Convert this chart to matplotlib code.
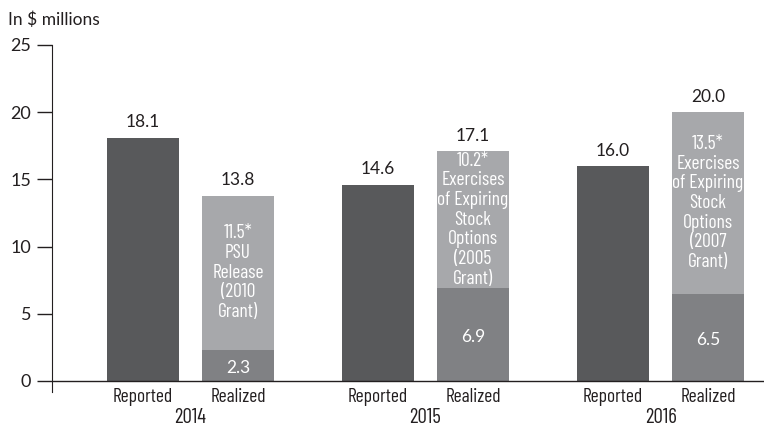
import numpy as np
import matplotlib.pyplot as plt

plt.rcParams['font.family'] = ['Lato', 'DejaVu Sans']
narrow = ['Barlow Condensed', 'DejaVu Sans']

years = ['2014', '2015', '2016']
reported = [18.1, 14.6, 16.0]
realized_base = [2.3, 6.9, 6.5]
realized_extra = [11.5, 10.2, 13.5]
extra_notes = [
    'PSU\nRelease\n(2010\nGrant)',
    'Exercises\nof Expiring\nStock\nOptions\n(2005\nGrant)',
    'Exercises\nof Expiring\nStock\nOptions\n(2007\nGrant)',
]

c_reported = '#58595b'
c_base = '#808184'
c_extra = '#a7a8ab'
c_text = '#231f20'

x = np.arange(len(years))
off = 0.202
w = 0.306
realized_total = [b + e for b, e in zip(realized_base, realized_extra)]

fig = plt.figure(figsize=(7.64, 4.28), dpi=100)
ax = fig.add_axes([0.068, 0.0832, 0.932, 0.8117])

ax.bar(x - off, reported, width=w, color=c_reported)
ax.bar(x + off, realized_base, width=w, color=c_base)
ax.bar(x + off, realized_extra, width=w, bottom=realized_base, color=c_extra)

for i in range(len(years)):
    ax.text(x[i] - off, reported[i] + 0.55, f'{reported[i]:.1f}',
            ha='center', va='bottom', fontsize=12.5, color=c_text)
    ax.text(x[i] + off, realized_total[i] + 0.55, f'{realized_total[i]:.1f}',
            ha='center', va='bottom', fontsize=12.5, color=c_text)
    ax.text(x[i] + off, realized_base[i] / 2 - 0.2, f'{realized_base[i]:.1f}',
            ha='center', va='center', fontsize=12.5, color='white')
    mid = realized_base[i] + realized_extra[i] / 2
    ax.text(x[i] + off, mid, f'{realized_extra[i]:.1f}*\n' + extra_notes[i],
            ha='center', va='center', fontsize=14, color='white',
            linespacing=1.12, family=narrow)

# x labels under each bar, years under each group
for i in range(len(years)):
    ax.text(x[i] - off, -0.55, 'Reported', ha='center', va='top',
            fontsize=14, color=c_text, family=narrow)
    ax.text(x[i] + off, -0.55, 'Realized', ha='center', va='top',
            fontsize=14, color=c_text, family=narrow)
    ax.text(x[i], -2.0, years[i], ha='center', va='top',
            fontsize=15, color=c_text, family=narrow)

ax.set_xlim(-0.589, 2.44)
ax.set_ylim(-0.85, 25)
ax.set_yticks([0, 5, 10, 15, 20, 25])
ax.tick_params(axis='y', direction='out', length=11, width=1, labelsize=13,
               colors=c_text, pad=4)
ax.set_xticks([])
ax.axhline(0, color=c_text, lw=1)
for s in ['top', 'right', 'bottom']:
    ax.spines[s].set_visible(False)
ax.spines['left'].set_color(c_text)
ax.spines['left'].set_bounds(-0.85, 25)

fig.text(0.0105, 0.953, 'In $ millions', fontsize=12.5, color=c_text,
         va='center', ha='left')

fig.savefig('out.png', dpi=100)
